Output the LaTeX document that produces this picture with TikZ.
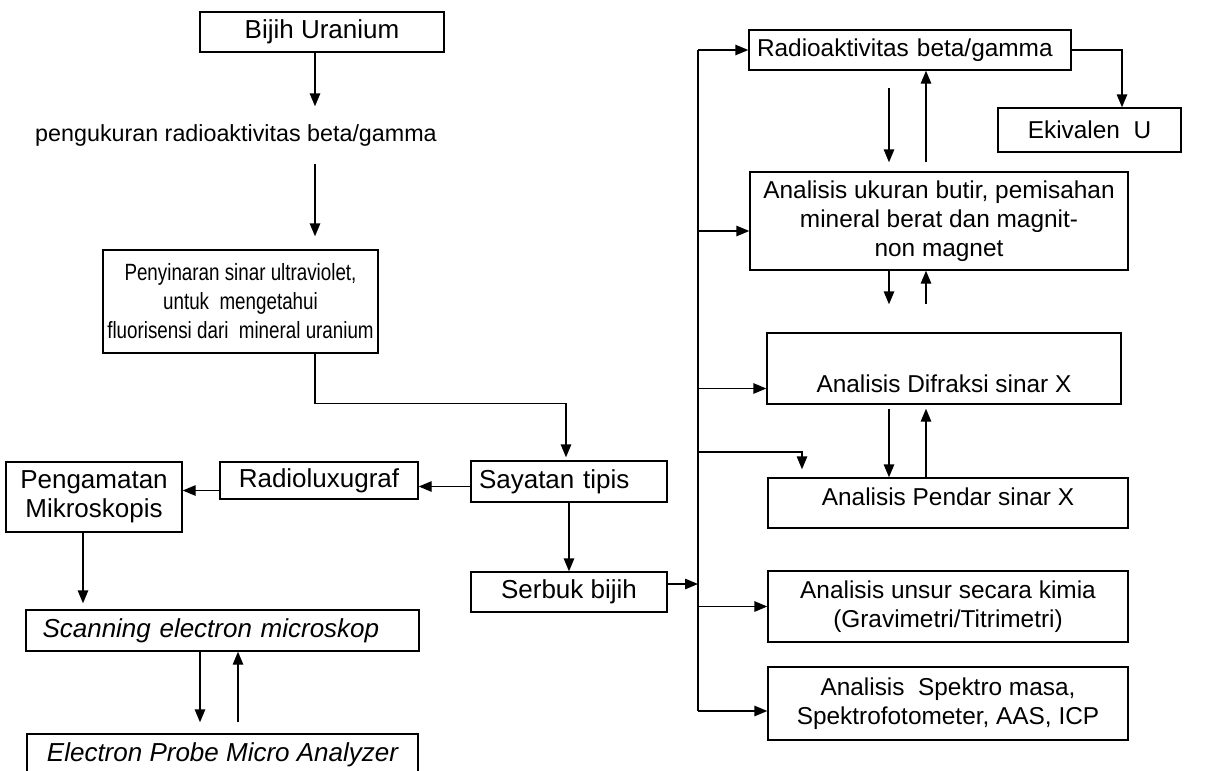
\documentclass[tikz,border=0pt]{standalone}
\usepackage{fontspec}
\setmainfont{Liberation Sans}
\newfontfamily\sempit[FakeStretch=0.8]{Liberation Sans}
\usetikzlibrary{arrows.meta}

\begin{document}
\begin{tikzpicture}[x=1pt,y=-1pt,>={Triangle[length=13pt,width=10.5pt]},line width=1.4pt,
    font=\fontsize{24.4}{29}\selectfont,
    kotak/.style={draw,inner sep=0pt,align=center},
    besar/.style={font=\fontsize{26}{29}\selectfont}]
    \useasboundingbox (0,0) rectangle (1229,771);

    \node[kotak,besar,minimum width=244pt,minimum height=40pt] (bijih) at (322,32) {Bijih Uranium};
    \node[minimum height=56pt,inner sep=0pt,font=\fontsize{23.3}{29}\selectfont] (ukur) at (236,135) {pengukuran radioaktivitas beta/gamma};
    \node[kotak,minimum width=275pt,minimum height=103pt,font=\sempit\fontsize{23.5}{29}\selectfont] (uv) at (240.5,301.5) {Penyinaran sinar ultraviolet,\\untuk\ \ mengetahui\\fluorisensi dari\ \ mineral uranium};
    \node[kotak,besar,minimum width=196pt,minimum height=41pt,text width=180pt,align=left] (sayatan) at (569,481.5) {Sayatan tipis};
    \node[kotak,besar,minimum width=196pt,minimum height=40pt] (serbuk) at (569,592) {Serbuk bijih};
    \node[kotak,besar,minimum width=198pt,minimum height=37pt] (luxu) at (319,480.5) {Radioluxugraf};
    \node[kotak,besar,minimum width=176pt,minimum height=70pt] (mikro) at (94,497) {Pengamatan\\Mikroskopis};
    \node[kotak,besar,minimum width=393pt,minimum height=41pt,text width=360pt,align=left] (sem) at (222.5,630.5) {\itshape Scanning electron microskop};
    \node[kotak,besar,minimum width=391pt,minimum height=41pt] (epma) at (222.5,754.5) {\itshape Electron Probe Micro Analyzer};

    \node[kotak,minimum width=322pt,minimum height=40pt,text width=306pt,align=left] (radio) at (910,50) {Radioaktivitas beta/gamma};
    \node[kotak,minimum width=183pt,minimum height=44pt] (ekuiv) at (1089.5,130) {Ekivalen\ \ U};
    \node[kotak,minimum width=378pt,minimum height=98pt] (butir) at (939,221) {Analisis ukuran butir, pemisahan\\mineral berat dan magnit-\\non magnet};
    \node[kotak,minimum width=354pt,minimum height=71pt,text height=47pt,text depth=0pt] (difraksi) at (944,368.5) {Analisis Difraksi sinar X};
    \node[kotak,minimum width=360pt,minimum height=50pt,text height=4pt,text depth=0pt] (pendar) at (948,503) {Analisis Pendar sinar X};
    \node[kotak,minimum width=360pt,minimum height=71pt] (kimia) at (948,606.5) {Analisis unsur secara kimia\\(Gravimetri/Titrimetri)};
    \node[kotak,minimum width=360pt,minimum height=73pt] (spektro) at (948,703.5) {Analisis\ \ Spektro masa,\\Spektrofotometer, AAS, ICP};

    \coordinate (kol)       at (315,0);
    \coordinate (busatas)   at (698,50);
    \coordinate (busbawah)  at (698,711);
    \coordinate (cabang)    at (698,452);
    \coordinate (turun)     at (889,0);
    \coordinate (naik)      at (926,0);

    \draw[->] (bijih.south -| kol) -- (ukur.north -| kol);
    \draw[->,shorten >=13pt] (ukur.south -| kol) -- (uv.north -| kol);
    \draw[->,shorten >=3pt] (uv.south -| kol) -- ++(0,50) -| ([xshift=-3pt]sayatan.north);
    \draw[->] ([yshift=-5pt]sayatan.west) -- ([yshift=-5pt]sayatan.west -| luxu.east);
    \draw[->] ([yshift=-10pt]luxu.west) -- ([yshift=-10pt]luxu.west -| mikro.east);
    \draw[->] (sayatan.south) -- (serbuk.north);
    \draw[->,shorten >=6pt] ([xshift=-11pt]mikro.south) -- ([xshift=-11pt]mikro.south |- sem.north);
    \draw[->,shorten >=11pt] ([xshift=-22.5pt]sem.south) -- ([xshift=-22.5pt]epma.north);
    \draw[->,shorten <=11pt] ([xshift=15.5pt]epma.north) -- ([xshift=15.5pt]sem.south);

    \draw (busatas) -- (busbawah);
    \draw[->] ([yshift=8pt]serbuk.east) -- ([yshift=8pt]serbuk.east -| busatas);
    \draw[->] (busatas) -- (radio.west);
    \draw[->] ([yshift=-10pt]butir.west -| busatas) -- ([yshift=-10pt]butir.west);
    \draw[->] ([yshift=-20pt]difraksi.west -| busatas) -- ([yshift=-20pt]difraksi.west);
    \draw[->,shorten >=8pt] (cabang) -| ([xshift=-146pt]pendar.north);
    \draw[->] (kimia.west -| busatas) -- (kimia.west);
    \draw[->] (busbawah) -- (busbawah -| spektro.west);
    \draw[->] (radio.east) -| ([xshift=32.5pt]ekuiv.north);

    \draw[->,shorten <=17pt,shorten >=9pt] (radio.south -| turun) -- (butir.north -| turun);
    \draw[->,shorten <=9pt] (butir.north -| naik) -- (radio.south -| naik);
    \draw[->,shorten >=28pt] (butir.south -| turun) -- (difraksi.north -| turun);
    \draw[->,shorten <=28pt] (difraksi.north -| naik) -- (butir.south -| naik);
    \draw[->,shorten <=4pt] (difraksi.south -| turun) -- (pendar.north -| turun);
    \draw[->,shorten >=4pt] (pendar.north -| naik) -- (difraksi.south -| naik);
\end{tikzpicture}
\end{document}
